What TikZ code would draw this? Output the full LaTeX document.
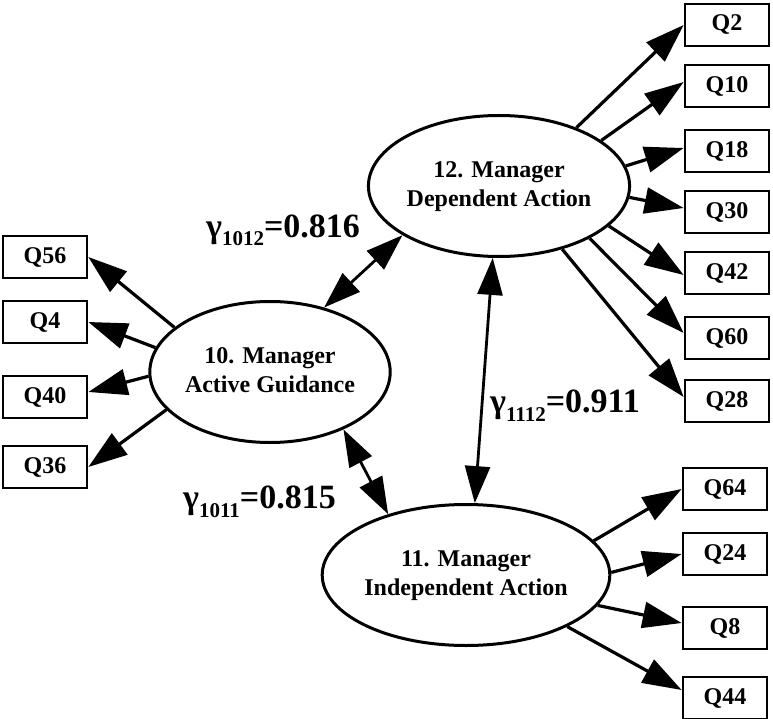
\documentclass[tikz,border=0pt]{standalone}
\usepackage{fontspec}
\setmainfont{Liberation Serif}
\usetikzlibrary{arrows.meta,shapes.geometric}
\begin{document}
\begin{tikzpicture}[x=1pt,y=-1pt,
  latent/.style={ellipse,draw,line width=3pt,minimum width=230pt,minimum height=141pt,
    inner sep=0pt,font=\fontsize{24}{29}\selectfont\bfseries},
  item/.style={rectangle,draw,line width=2.7pt,minimum width=84pt,minimum height=42pt,
    inner sep=0pt,font=\fontsize{24}{28}\selectfont\bfseries},
  load/.style={line width=3.2pt,-{Triangle[length=39pt,width=26pt]}},
  corr/.style={line width=2.8pt,{Triangle[length=37pt,width=25pt]}-{Triangle[length=37pt,width=25pt]}},
  coef/.style={anchor=base west,inner sep=0pt,font=\fontsize{34}{34}\selectfont\bfseries}
]
\newcommand{\gsub}[1]{\raisebox{-9pt}{\fontsize{21}{21}\selectfont #1}}
\newcommand{\twolines}[2]{\raisebox{-4pt}{\begin{tabular}{@{}c@{}}#1\\#2\end{tabular}}}
\useasboundingbox (0,0) rectangle (773,719);

% latent factors
\node[latent] (E10) at (270,372) {\twolines{10. Manager}{Active Guidance}};
\node[latent] (E12) at (499,186) {\twolines{12. Manager}{Dependent Action}};
\node[latent] (E11) at (466,575) {\twolines{11. Manager}{Independent Action}};

% indicators of factor 10
\node[item] (Q56) at (45,257) {Q56};
\node[item] (Q4)  at (45,322) {Q4};
\node[item] (Q40) at (45,397) {Q40};
\node[item] (Q36) at (45,467) {Q36};

% indicators of factor 12
\node[item] (Q2)  at (727,25)  {Q2};
\node[item] (Q10) at (727,86)  {Q10};
\node[item] (Q18) at (727,151) {Q18};
\node[item] (Q30) at (727,212) {Q30};
\node[item] (Q42) at (727,273) {Q42};
\node[item] (Q60) at (727,338) {Q60};
\node[item] (Q28) at (727,401) {Q28};

% indicators of factor 11
\node[item] (Q64) at (725,489) {Q64};
\node[item] (Q24) at (725,554) {Q24};
\node[item] (Q8)  at (725,628) {Q8};
\node[item] (Q44) at (725,698) {Q44};

% loadings
\draw[load] (E10.155) -- (Q56.east);
\draw[load] (E10.168) -- (Q4.east);
\draw[load] (E10.182) -- ([yshift=5pt]Q40.east);
\draw[load] (E10.200) -- (Q36.east);

\draw[load] (E12.37)  -- (Q2.west);
\draw[load] (E12.24)  -- ([yshift=4pt]Q10.west);
\draw[load] (E12.9)   -- ([yshift=3pt]Q18.west);
\draw[load] (E12.-5)  -- ([yshift=4pt]Q30.west);
\draw[load] (E12.-20) -- ([yshift=-2pt]Q42.west);
\draw[load] (E12.-30) -- ([yshift=5pt]Q60.west);
\draw[load] (E12.-45) -- ([yshift=4pt]Q28.west);

\draw[load] (E11.15)  -- (Q64.west);
\draw[load] (E11.1)   -- (Q24.west);
\draw[load] (E11.-13) -- ([yshift=5pt]Q8.west);
\draw[load] (E11.-27) -- ([yshift=8pt]Q44.west);

% factor correlations
\draw[corr] (E10.50)  -- (E12.207);
\draw[corr] (E10.-38) -- (E11.142);
\draw[corr] (E12.265) -- (E11.83);

\node[coef] (c1012) at (206,237) {γ\gsub{1012}=0.816};
\node[coef] (c1011) at (183,508) {γ\gsub{1011}=0.815};
\node[coef] (c1112) at (490,412) {γ\gsub{1112}=0.911};
\end{tikzpicture}
\end{document}
